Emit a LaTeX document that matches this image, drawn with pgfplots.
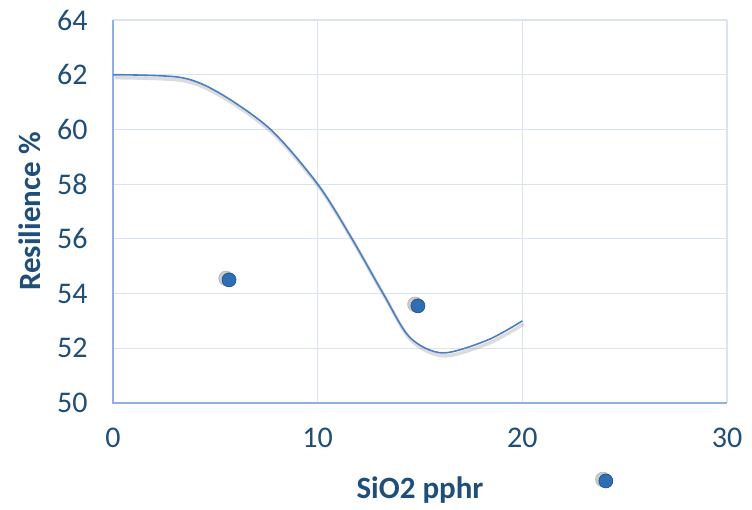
\documentclass[border=0pt]{standalone}
\usepackage{fontspec}
\setmainfont{Carlito}
\usepackage{pgfplots}
\pgfplotsset{compat=1.18}
\definecolor{txt}{HTML}{1F4E79}
\definecolor{lineblue}{HTML}{4A7EC2}
\definecolor{dotblue}{HTML}{2F6DB5}
\definecolor{gridc}{HTML}{DAE3F3}
\definecolor{axc}{HTML}{8FB0E0}
\begin{document}
\begin{tikzpicture}
\path[use as bounding box] (0,0) rectangle (752pt,510pt);
\begin{axis}[
  at={(113pt,107pt)}, anchor=south west,
  scale only axis, width=614pt, height=383pt,
  xmin=0, xmax=30, ymin=50, ymax=64,
  xtick={0,10,20,30}, ytick={50,52,...,64},
  grid=major, major grid style={gridc, line width=1.2pt},
  axis line style={draw=none},
  tick style={draw=none},
  clip=false,
  /pgf/number format/assume math mode=true,
  ticklabel style={font=\fontsize{30pt}{32pt}\selectfont, text=txt},
  xticklabel style={yshift=-22pt},
  yticklabel style={xshift=-22pt},
  xlabel={SiO2 pphr},
  ylabel={Resilience \%},
  label style={font=\bfseries\fontsize{31pt}{33pt}\selectfont, text=txt},
  xlabel style={at={(rel axis cs:0.5,0)}, anchor=center, yshift=-87pt},
  ylabel style={at={(rel axis cs:0,0.5)}, anchor=center, rotate=0, yshift=83pt},
]
% axis lines (left and bottom)
\draw[axc, line width=1.5pt] (rel axis cs:0,1) -- (rel axis cs:0,0) -- (rel axis cs:1,0);
% curve shadow
\addplot[smooth, tension=0.5, black!45, opacity=0.3, line width=3.5pt, shift={(1.5pt,-3pt)}] coordinates {
(0,62) (3.3,61.9) (5.2,61.33) (7.7,60) (10,58) (11.6,56.1) (13.2,54) (14.5,52.4) (16.1,51.83) (18.3,52.3) (20,53)};
\addplot[smooth, tension=0.5, lineblue, line width=1.6pt] coordinates {
(0,62) (3.3,61.9) (5.2,61.33) (7.7,60) (10,58) (11.6,56.1) (13.2,54) (14.5,52.4) (16.1,51.83) (18.3,52.3) (20,53)};
% dot shadows
\addplot[only marks, mark=*, mark size=7.5pt, black!60, opacity=0.35, mark options={draw=none}, shift={(-3pt,1.5pt)}] coordinates {(5.67,54.5) (14.9,53.55) (24.08,47.15)};
\addplot[only marks, mark=*, mark size=7pt, mark options={fill=dotblue, draw=dotblue!70!black, line width=0.6pt}] coordinates {(5.67,54.5) (14.9,53.55) (24.08,47.15)};
\end{axis}
\end{tikzpicture}
\end{document}
